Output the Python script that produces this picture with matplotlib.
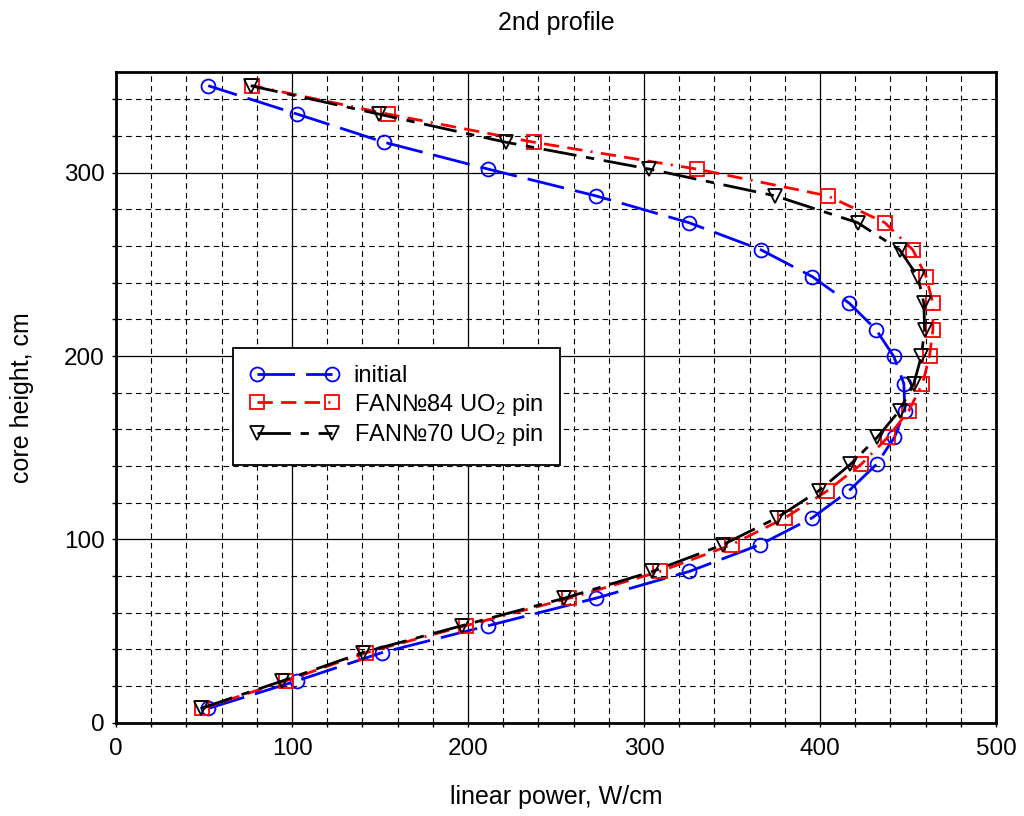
import matplotlib
matplotlib.use("Agg")
import matplotlib.pyplot as plt
from matplotlib.ticker import MultipleLocator

plt.rcParams['font.family'] = ['Liberation Sans', 'DejaVu Sans']
plt.rcParams['mathtext.default'] = 'regular'
plt.rcParams['lines.scale_dashes'] = False

# axial node heights, cm (bottom to top)
height = [7.8, 22.8, 38.3, 52.9, 67.9, 82.5, 97.1, 111.8, 126.5, 141.0, 155.7, 170.3,
          185.0, 199.8, 214.2, 228.8, 243.3, 258.0, 272.8, 287.4, 302.0, 316.7, 332.0, 347.5]

# linear power, W/cm
p_initial = [52.5, 102.6, 151.3, 211.3, 272.5, 325.6, 365.8, 395.6, 416.4, 432.1, 442.3, 448.2,
             447.6, 441.9, 432.0, 416.7, 395.7, 366.4, 325.5, 272.7, 211.5, 152.2, 103.0, 52.4]
p_fan84 = [49.1, 96.4, 142.2, 198.6, 257.4, 309.0, 349.7, 380.2, 404.1, 423.4, 438.5, 450.5,
           458.2, 462.2, 464.1, 464.1, 460.3, 452.7, 436.8, 404.4, 330.2, 237.3, 154.6, 77.5]
p_fan70 = [48.1, 94.5, 140.3, 196.4, 254.6, 304.7, 344.8, 375.5, 399.2, 417.3, 432.5, 445.2,
           453.3, 457.5, 459.4, 459.0, 455.6, 445.2, 421.3, 374.6, 303.1, 221.4, 149.4, 76.5]

labels = ['initial', 'FAN№84 UO$_2$ pin', 'FAN№70 UO$_2$ pin']

fig = plt.figure(figsize=(10.24, 8.16), dpi=100)
ax = fig.add_axes([0.1133, 0.1143, 0.8594, 0.7975])

ax.plot(p_initial, height, color='blue', lw=2.0, linestyle=(0, (27, 8)),
        marker='o', ms=10, mfc='none', mec='blue', mew=1.3, label=labels[0])
ax.plot(p_fan84, height, color='red', lw=2.0, linestyle=(0, (11, 6, 11, 6, 11, 6, 1.5, 6)),
        marker='s', ms=9.5, mfc='none', mec='red', mew=1.3, label=labels[1])
ax.plot(p_fan70, height, color='black', lw=2.0, linestyle=(0, (24, 7, 6, 7)),
        marker='v', ms=10, mfc='none', mec='black', mew=1.3, label=labels[2])

ax.set_xlim(0, 500)
ax.set_ylim(0, 355)
ax.xaxis.set_major_locator(MultipleLocator(100))
ax.xaxis.set_minor_locator(MultipleLocator(20))
ax.yaxis.set_major_locator(MultipleLocator(100))
ax.yaxis.set_minor_locator(MultipleLocator(20))
ax.grid(which='major', linestyle='-', color='black', lw=0.9)
ax.grid(which='minor', linestyle=(0, (4, 3)), color='black', lw=0.8)
ax.set_axisbelow(True)
ax.tick_params(which='both', direction='out', length=3, width=1, labelsize=17.5)
ax.tick_params(axis='x', pad=8)
ax.tick_params(axis='y', pad=5)
for s in ax.spines.values():
    s.set_linewidth(2)

ax.set_xlabel('linear power, W/cm', fontsize=18, labelpad=18)
ax.set_ylabel('core height, cm', fontsize=18, labelpad=22)
ax.set_title('2nd profile', fontsize=18, pad=30)

leg = ax.legend(loc='upper left', bbox_to_anchor=(0.2278, 0.5732), bbox_transform=fig.transFigure,
                borderaxespad=0, fancybox=False, framealpha=1, edgecolor='black', numpoints=2,
                handlelength=3.8, fontsize=17, labelspacing=0.2, borderpad=0.7, handletextpad=0.6)
leg.get_frame().set_linewidth(1.3)

fig.savefig('out.png', dpi=100)
